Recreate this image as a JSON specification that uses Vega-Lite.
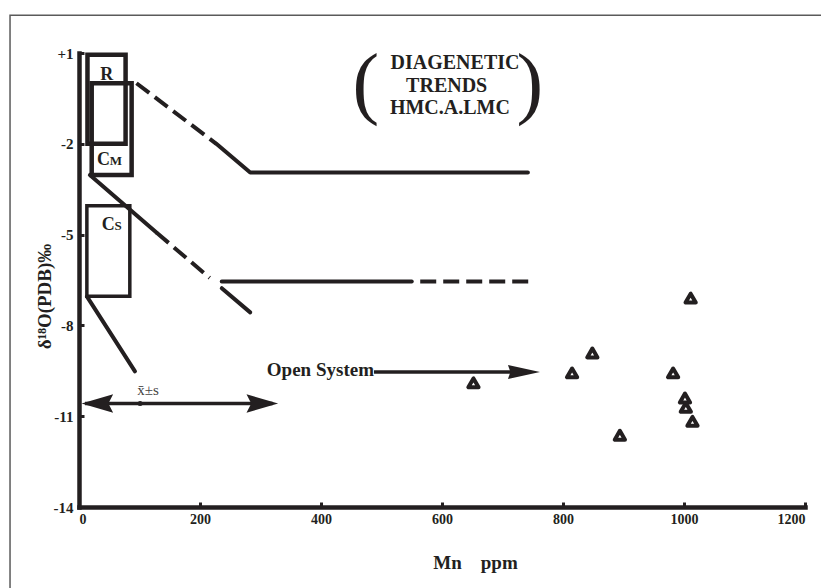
{
  "$schema": "https://vega.github.io/schema/vega-lite/v6.json",
  "width": 726,
  "height": 454,
  "autosize": {"type": "none"},
  "padding": {"left": 79, "top": 53, "right": 16, "bottom": 81},
  "background": "white",
  "config": {
    "view": {"stroke": null},
    "font": "Liberation Serif",
    "axis": {
      "grid": false,
      "domainColor": "#231f20",
      "domainWidth": 4.5,
      "domainCap": "square",
      "tickColor": "#231f20",
      "tickWidth": 3,
      "tickSize": -5,
      "labelFont": "Liberation Serif",
      "labelFontWeight": "bold",
      "labelColor": "#231f20",
      "titleFont": "Liberation Serif",
      "titleFontWeight": "bold",
      "titleColor": "#231f20"
    }
  },
  "datasets": {
    "frame": [{"x": -114, "x2": 1500, "y": 2.25, "y2": -20}],
    "boxesThick": [
      {"name": "R", "x": 14, "x2": 77, "y": -2, "y2": 0.94},
      {"name": "CM", "x": 21, "x2": 87, "y": -3.03, "y2": 0}
    ],
    "boxesThin": [{"name": "Cs", "x": 13, "x2": 84, "y": -7.04, "y2": -4.05}],
    "solid": [
      {"id": "a", "x": 227, "y": -2.0},
      {"id": "a", "x": 283, "y": -2.95},
      {"id": "a", "x": 742, "y": -2.95},
      {"id": "b", "x": 18, "y": -3.03},
      {"id": "b", "x": 128, "y": -4.93},
      {"id": "c", "x": 236, "y": -6.77},
      {"id": "c", "x": 283, "y": -7.57},
      {"id": "d", "x": 236, "y": -6.55},
      {"id": "d", "x": 550, "y": -6.55},
      {"id": "e", "x": 13, "y": -7.04},
      {"id": "e", "x": 92.5, "y": -9.52}
    ],
    "shafts": [
      {"id": "f", "x": 10, "y": -10.58},
      {"id": "f", "x": 320, "y": -10.58},
      {"id": "g", "x": 487.6, "y": -9.54},
      {"id": "g", "x": 745, "y": -9.54}
    ],
    "dashed": [
      {"id": "h", "x": 95, "y": 0.0},
      {"id": "h", "x": 227, "y": -2.0},
      {"id": "i", "x": 128, "y": -4.93},
      {"id": "i", "x": 216, "y": -6.43},
      {"id": "j", "x": 564, "y": -6.55},
      {"id": "j", "x": 745, "y": -6.55}
    ],
    "leftHead": [{"x": 30.3, "y": -10.58}],
    "rightHead": [{"x": 303, "y": -10.58}],
    "osHead": [{"x": 735.5, "y": -9.54}],
    "dot": [{"x": 101, "y": -10.58}],
    "samples": [
      {"x": 652, "y": -9.9},
      {"x": 815, "y": -9.57},
      {"x": 848.5, "y": -8.91},
      {"x": 894, "y": -11.63},
      {"x": 982, "y": -9.57},
      {"x": 1001.6, "y": -10.4},
      {"x": 1003, "y": -10.71},
      {"x": 1011, "y": -7.1},
      {"x": 1014, "y": -11.17}
    ],
    "bigLetters": [
      {"x": 45.7, "y": 0.11, "t": "R"},
      {"x": 40.3, "y": -2.7, "t": "C"},
      {"x": 48.4, "y": -4.84, "t": "C"}
    ],
    "smallLetters": [
      {"x": 61, "y": -2.7, "t": "M"},
      {"x": 64.5, "y": -4.84, "t": "S"}
    ],
    "trend": [
      {"x": 621.5, "y": 0.46, "t": "DIAGENETIC"},
      {"x": 607.7, "y": -0.28, "t": "TRENDS"},
      {"x": 613, "y": -1.01, "t": "HMC.A.LMC"}
    ],
    "parens": [
      {"x": 474, "y": -0.85, "t": "("},
      {"x": 745, "y": -0.85, "t": ")"}
    ],
    "openLabel": [{"x": 487.6, "y": -9.68, "t": "Open System"}],
    "meanLabel": [{"x": 114, "y": -10.3, "t": "x̄±s"}]
  },
  "encoding": {
    "x": {
      "field": "x",
      "type": "quantitative",
      "scale": {"domain": [0, 1200], "nice": false, "zero": false},
      "axis": {
        "values": [0, 200, 400, 600, 800, 1000, 1200],
        "format": "d",
        "domainWidth": 4.5,
        "labelFontSize": 14,
        "labelPadding": 10,
        "titleFontSize": 19,
        "titleX": 396,
        "titleY": 61,
        "titleBaseline": "alphabetic"
      },
      "title": "Mn\u00a0\u00a0\u00a0\u00a0ppm"
    },
    "y": {
      "field": "y",
      "type": "quantitative",
      "scale": {"domain": [-14, 1], "nice": false, "zero": false},
      "axis": {
        "values": [1, -2, -5, -8, -11, -14],
        "labelExpr": "datum.value > 0 ? '+' + datum.value : '' + datum.value",
        "domainWidth": 4.5,
        "labelFontSize": 15,
        "labelPadding": 11,
        "titleFontSize": 19,
        "titleX": -29,
        "titleY": 243,
        "titleBaseline": "alphabetic"
      },
      "title": "δ¹⁸O(PDB)‰"
    }
  },
  "layer": [
    {
      "data": {"name": "frame"},
      "mark": {"type": "rect", "fill": null, "fillOpacity": 0, "stroke": "#5a5a5a", "strokeWidth": 1.5, "clip": false},
      "encoding": {"x2": {"field": "x2"}, "y2": {"field": "y2"}}
    },
    {
      "data": {"name": "boxesThick"},
      "mark": {"type": "rect", "fillOpacity": 0, "stroke": "#231f20", "strokeWidth": 4.5},
      "encoding": {"x2": {"field": "x2"}, "y2": {"field": "y2"}}
    },
    {
      "data": {"name": "boxesThin"},
      "mark": {"type": "rect", "fillOpacity": 0, "stroke": "#231f20", "strokeWidth": 3.5},
      "encoding": {"x2": {"field": "x2"}, "y2": {"field": "y2"}}
    },
    {
      "data": {"name": "solid"},
      "mark": {"type": "line", "color": "#231f20", "strokeWidth": 4, "strokeCap": "round", "strokeJoin": "round"},
      "encoding": {"detail": {"field": "id"}}
    },
    {
      "data": {"name": "shafts"},
      "mark": {"type": "line", "color": "#231f20", "strokeWidth": 3.5},
      "encoding": {"detail": {"field": "id"}}
    },
    {
      "data": {"name": "dashed"},
      "mark": {"type": "line", "color": "#231f20", "strokeWidth": 4, "strokeDash": [16, 7]},
      "encoding": {"detail": {"field": "id"}}
    },
    {
      "data": {"name": "leftHead"},
      "mark": {"type": "point", "shape": "M-1,0 L1,-0.58 L0.7,0 L1,0.58 Z", "size": 1000, "filled": true, "color": "#231f20", "opacity": 1},
      "encoding": {}
    },
    {
      "data": {"name": "rightHead"},
      "mark": {"type": "point", "shape": "M1,0 L-1,-0.58 L-0.7,0 L-1,0.58 Z", "size": 1000, "filled": true, "color": "#231f20", "opacity": 1},
      "encoding": {}
    },
    {
      "data": {"name": "osHead"},
      "mark": {"type": "point", "shape": "M1,0 L-1,-0.44 L-0.85,0 L-1,0.44 Z", "size": 1024, "filled": true, "color": "#231f20", "opacity": 1},
      "encoding": {}
    },
    {
      "data": {"name": "dot"},
      "mark": {"type": "point", "shape": "circle", "size": 25, "filled": true, "color": "#231f20", "opacity": 1},
      "encoding": {}
    },
    {
      "data": {"name": "samples"},
      "mark": {"type": "point", "shape": "triangle-up", "size": 105, "fill": "white", "fillOpacity": 1, "stroke": "#231f20", "strokeWidth": 4, "strokeJoin": "round", "opacity": 1},
      "encoding": {}
    },
    {
      "data": {"name": "bigLetters"},
      "mark": {"type": "text", "font": "Liberation Serif", "fontWeight": "bold", "fontSize": 18, "baseline": "alphabetic", "color": "#231f20"},
      "encoding": {"text": {"field": "t"}}
    },
    {
      "data": {"name": "smallLetters"},
      "mark": {"type": "text", "font": "Liberation Serif", "fontWeight": "bold", "fontSize": 13, "baseline": "alphabetic", "color": "#231f20"},
      "encoding": {"text": {"field": "t"}}
    },
    {
      "data": {"name": "trend"},
      "mark": {"type": "text", "font": "Liberation Serif", "fontWeight": "bold", "fontSize": 20, "baseline": "alphabetic", "color": "#231f20"},
      "encoding": {"text": {"field": "t"}}
    },
    {
      "data": {"name": "parens"},
      "mark": {"type": "text", "font": "Liberation Serif", "fontWeight": "normal", "fontSize": 80, "baseline": "alphabetic", "color": "#231f20"},
      "encoding": {"text": {"field": "t"}}
    },
    {
      "data": {"name": "openLabel"},
      "mark": {"type": "text", "font": "Liberation Serif", "fontWeight": "bold", "fontSize": 19, "baseline": "alphabetic", "align": "right", "color": "#231f20"},
      "encoding": {"text": {"field": "t"}}
    },
    {
      "data": {"name": "meanLabel"},
      "mark": {"type": "text", "font": "Liberation Serif", "fontSize": 15, "baseline": "alphabetic", "color": "#444444"},
      "encoding": {"text": {"field": "t"}}
    }
  ]
}
